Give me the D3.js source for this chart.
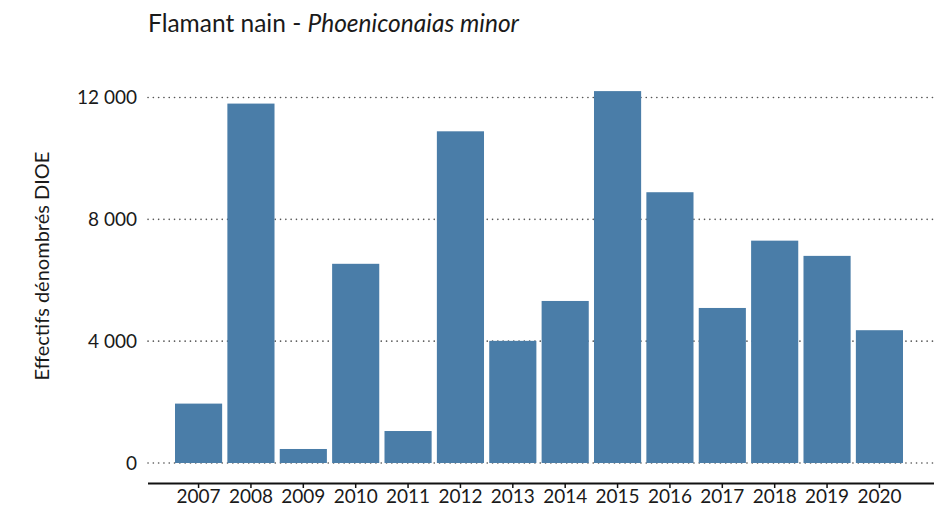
<!DOCTYPE html>
<html>
<head>
<meta charset="utf-8">
<script src="https://cdn.jsdelivr.net/npm/d3@7"></script>
<style>
  body { margin: 0; background: #fff; }
  text { font-family: Lato, "Open Sans", sans-serif; fill: #1a1a1a; }
</style>
</head>
<body>
<svg id="chart" width="944" height="509"></svg>
<script>
// data
const years = ["2007", "2008", "2009", "2010", "2011", "2012", "2013", "2014", "2015", "2016", "2017", "2018", "2019", "2020"];
const counts = [1950, 11800, 460, 6540, 1050, 10890, 4010, 5320, 12210, 8890, 5090, 7300, 6800, 4360];
const yTicks = [0, 4000, 8000, 12000];

const svg = d3.select("#chart");

const x = d3.scaleBand()
    .domain(years)
    .range([175, 903])
    .paddingInner(0.1)
    .paddingOuter(0);

const y = d3.scaleLinear()
    .domain([0, 12000])
    .range([463, 97.5]);

const fmt = v => d3.format(",")(v).replace(/,/g, "\u00a0");

// dotted gridlines
svg.append("g")
    .selectAll("line")
    .data(yTicks)
    .join("line")
    .attr("x1", 148)
    .attr("x2", 934)
    .attr("y1", d => y(d))
    .attr("y2", d => y(d))
    .attr("stroke", "#555")
    .attr("stroke-width", 1.6)
    .attr("stroke-linecap", "round")
    .attr("stroke-dasharray", "0.1 5.2");

// bars
svg.append("g")
    .selectAll("rect")
    .data(counts)
    .join("rect")
    .attr("x", (d, i) => x(years[i]))
    .attr("y", d => y(d))
    .attr("width", x.bandwidth())
    .attr("height", d => y(0) - y(d))
    .attr("fill", "#4a7da8");

// y tick labels
svg.append("g")
    .selectAll("text")
    .data(yTicks)
    .join("text")
    .attr("x", 137)
    .attr("y", d => y(d))
    .attr("dy", "0.35em")
    .attr("text-anchor", "end")
    .style("font-size", "19px")
    .text(fmt);

// x axis
const xAxis = svg.append("g")
    .attr("transform", "translate(0,483)")
    .call(d3.axisBottom(x).tickSize(5).tickSizeOuter(0).tickPadding(2));
xAxis.select(".domain")
    .attr("d", "M148,0.5H934")
    .attr("stroke", "#111")
    .attr("stroke-width", 2);
xAxis.selectAll(".tick line").attr("stroke", "#111").attr("stroke-width", 1.5);
xAxis.selectAll(".tick text")
    .style("font-size", "19px")
    .style("font-family", 'Lato, "Open Sans", sans-serif')
    .attr("fill", "#1a1a1a");

// y axis title
svg.append("text")
    .attr("transform", "translate(49,266) rotate(-90)")
    .attr("text-anchor", "middle")
    .style("font-size", "20px")
    .text("Effectifs dénombrés DIOE");

// title
const title = svg.append("text")
    .attr("x", 148)
    .attr("y", 32)
    .style("font-size", "24.5px");
title.append("tspan").text("Flamant nain -  ");
title.append("tspan").style("font-style", "italic").text("Phoeniconaias minor");
</script>
</body>
</html>
